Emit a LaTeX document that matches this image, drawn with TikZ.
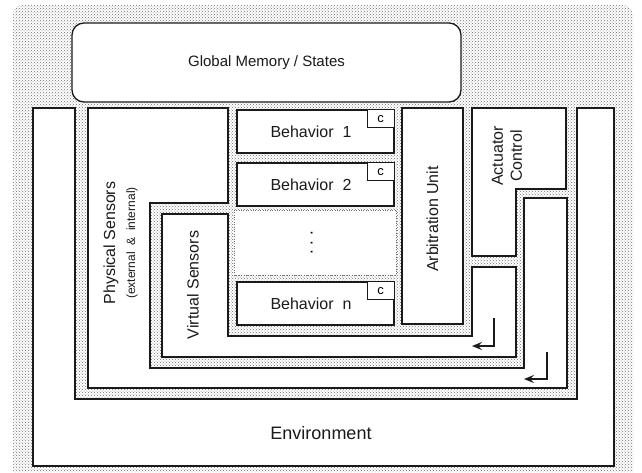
\documentclass[tikz,border=0pt]{standalone}
\usepackage{fontspec}
\setmainfont{Liberation Sans}
\usetikzlibrary{arrows.meta,patterns}
\definecolor{ink}{HTML}{1A1A1A}
\definecolor{dotc}{HTML}{6E6E6E}

\begin{document}
\begin{tikzpicture}[x=1pt, y=-1pt,
      blk/.style={draw=ink, fill=white, line width=1.3pt},
      lbl/.style={font=\fontsize{16}{19}\selectfont, text=ink, align=center, inner sep=0pt},
      small/.style={font=\fontsize{12}{14}\selectfont, text=ink, inner sep=0pt},
      ckey/.style={draw=ink, fill=white, line width=1pt, inner sep=0pt, minimum width=27pt, minimum height=18pt, font=\fontsize{13}{13}\selectfont},
      behbox/.style={blk, lbl, minimum width=157pt, minimum height=43pt},
      arr/.style={-{Stealth[length=10pt, width=8pt, inset=4pt]}, line width=1.8pt, color=ink}]
    \useasboundingbox (0,0) rectangle (642,472);
    % dotted ground
    \fill[pattern=crosshatch dots, pattern color=dotc] (13,472) [rounded corners=10pt] -- (13,5) -- (633,5) [sharp corners] -- (633,472) -- cycle;
    % layers
    \draw[blk] (33,108) -- (33,466) -- (614,466) -- (614,108) -- (577,108) -- (577,399) -- (75,399) -- (75,108) -- cycle;
    \draw[blk] (88,108) -- (228,108) -- (228,203) -- (150,203) -- (150,368) -- (524,368) -- (524,198) -- (567,198) -- (567,388) -- (88,388) -- cycle;
    \draw[blk] (162,214) -- (228,214) -- (228,336) -- (472,336) -- (472,267) -- (516,267) -- (516,357) -- (162,357) -- cycle;
    \draw[blk] (472,108) -- (566,108) -- (566,189) -- (516,189) -- (516,256) -- (472,256) -- cycle;
    \node[blk, lbl, rounded corners=12pt, minimum width=389pt, minimum height=79pt, font=\fontsize{15}{18}\selectfont] (mem) at (266.5,62.5) {Global Memory / States};
    \node[blk, minimum width=61pt, minimum height=216pt] (arb) at (432.5,216) {};
    \node[behbox] (beh1) at (315.5,131.5) {Behavior\ \ 1\hspace*{9pt}};
    \node[behbox] (beh2) at (315.5,184.5) {Behavior\ \ 2\hspace*{9pt}};
    \node[behbox] (behn) at (315.5,303.5) {Behavior\ \ n\hspace*{9pt}};
    \node[ckey, anchor=north east] (c1) at (beh1.north east) {c};
    \node[ckey, anchor=north east] (c2) at (beh2.north east) {c};
    \node[ckey, anchor=north east] (cn) at (behn.north east) {c};
    \node[draw=dotc, dotted, fill=white, minimum width=162pt, minimum height=65pt] (more) at (315,242.5) {};
    \node[rotate=90, anchor=base, inner sep=0pt, font=\fontsize{17}{17}\selectfont] (dots) at (312.5,243) {.\ .\ .};
    % labels
    \node[lbl, font=\fontsize{18}{21}\selectfont] (env) at (321,433) {Environment};
    \node[lbl, rotate=90] (phys) at (111,243) {Physical Sensors};
    \node[small, rotate=90] (physsub) at (132,243) {(external\ \ \&\ \ internal)};
    \node[lbl, rotate=90] (virt) at (193,285) {Virtual\ Sensors};
    \node[lbl, rotate=90] (arbl) at (432.5,219) {Arbitration Unit};
    \node[lbl, rotate=90] (act) at (507,156) {Actuator\\Control};
    % returns
    \coordinate (r1a) at (494,318);
    \coordinate (r1b) at (472,346);
    \coordinate (r2a) at (547,352);
    \coordinate (r2b) at (524,379);
    \draw[arr] (r1a) |- (r1b);
    \draw[arr] (r2a) |- (r2b);
  \end{tikzpicture}
\end{document}
